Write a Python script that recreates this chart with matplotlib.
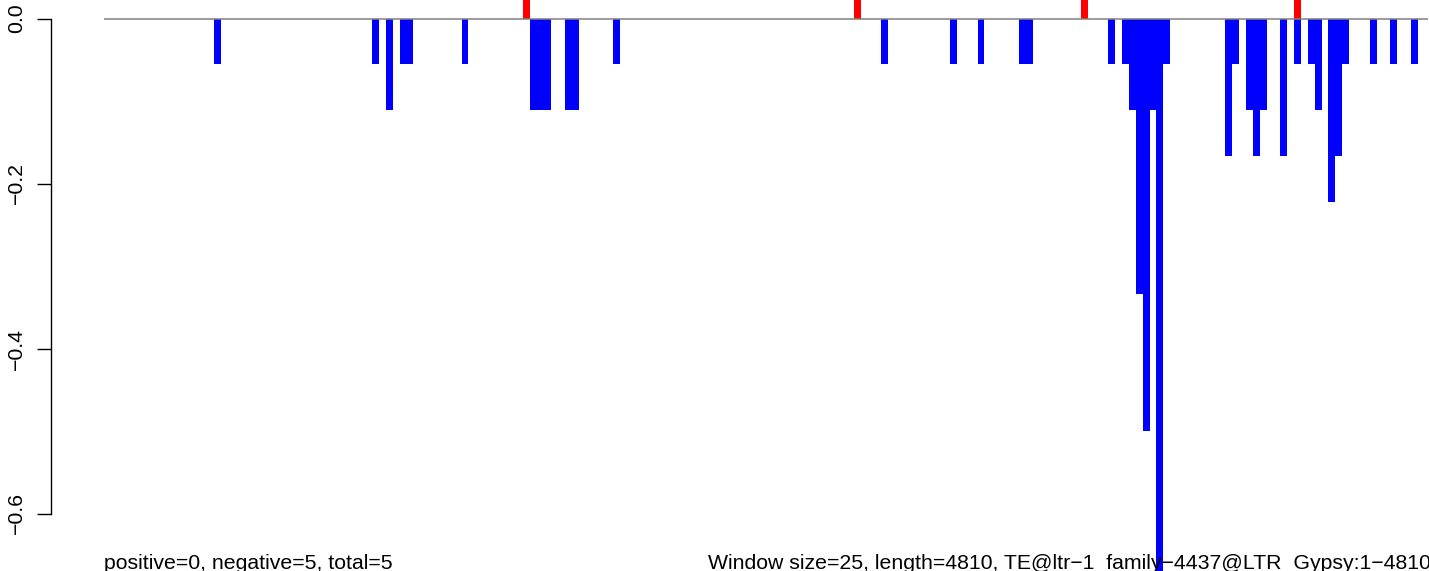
import numpy as np
import matplotlib.pyplot as plt

plt.rcParams['font.family'] = ['Liberation Sans', 'DejaVu Sans']

window = 25
length = 4810

# window index and value (in 1/18 steps) of the negative bars
neg_idx = [16, 39, 41, 43, 44, 52, 62, 63, 64, 67, 68, 74, 113, 123, 127, 133, 134,
           146, 148, 149, 150, 151, 152, 153, 154, 163, 164, 166, 167, 168, 171, 173,
           175, 176, 178, 179, 180, 184, 187, 190]
neg_count = [1, 1, 2, 1, 1, 1, 2, 2, 2, 2, 2, 1, 1, 1, 1, 1, 1,
             1, 1, 2, 6, 9, 2, 13, 1, 3, 1, 2, 3, 2, 3, 1,
             1, 2, 4, 3, 1, 1, 1, 1]
# red marks above the zero line
mark_idx = [61, 109, 142, 173]

neg_x = np.array(neg_idx) * window
neg_val = -np.array(neg_count) / 18
mark_x = np.array(mark_idx) * window

W, H = 1429, 571
fig = plt.figure(figsize=(W / 100, H / 100), dpi=100)
ax = fig.add_axes([51 / W, 0, (W - 51) / W, 1])

px_per_bp = 6.88 / window
x0 = 103.8
ax.set_xlim((51 - x0) / px_per_bp, (W - x0) / px_per_bp)
ax.set_ylim(-(H - 18.5) / 825, 18.5 / 825)

ax.bar(neg_x, neg_val, width=window, align='edge', color='blue', linewidth=0)
ax.bar(mark_x, 0.05, width=window, align='edge', color='red', linewidth=0)
ax.hlines(0, 0, length, color='gray', linewidth=1.1, zorder=3)

for s in ['top', 'right', 'bottom']:
    ax.spines[s].set_visible(False)
ax.spines['left'].set_bounds(-0.6, 0)
ax.spines['left'].set_linewidth(1.0)
ax.set_xticks([])
ax.set_yticks([0, -0.2, -0.4, -0.6])
ax.set_yticklabels(['0.0', '\u22120.2', '\u22120.4', '\u22120.6'],
                   rotation=90, va='center', fontsize=15.3)
ax.tick_params(axis='y', length=10, width=1.0, pad=8)

fig.text(104 / W, 2 / H, 'positive=0, negative=5, total=5', fontsize=15.3, va='baseline')
fig.text(708 / W, 2 / H,
         'Window size=25, length=4810, TE@ltr\u22121_family\u22124437@LTR_Gypsy:1\u22124810',
         fontsize=15.3, va='baseline')

fig.savefig('out.png', dpi=100)
